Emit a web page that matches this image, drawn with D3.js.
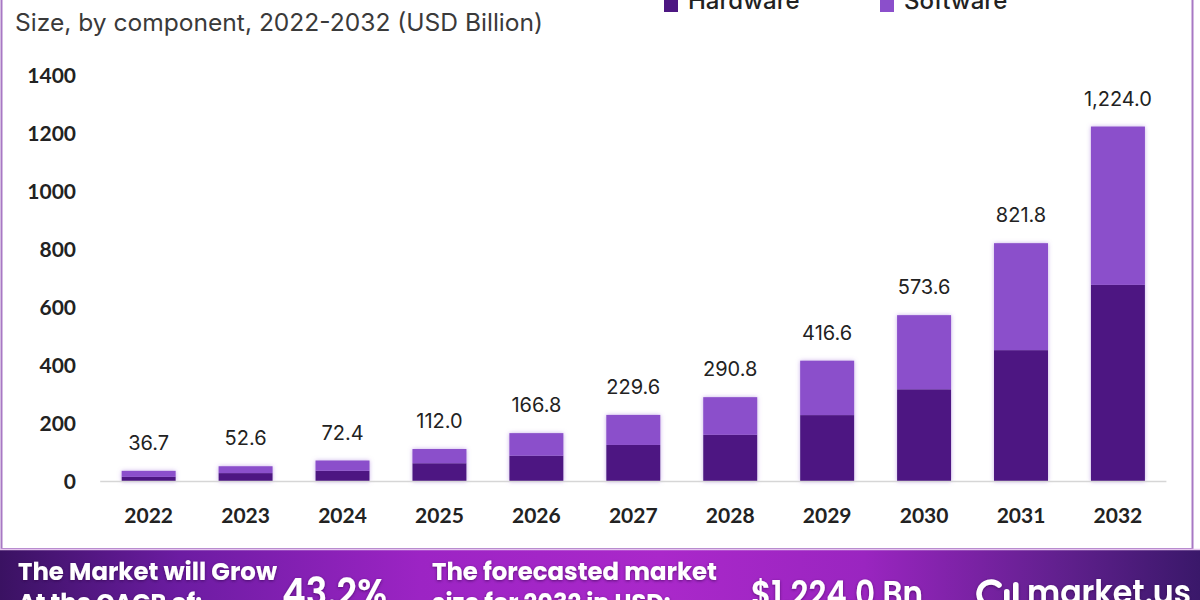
<!DOCTYPE html>
<html><head><meta charset="utf-8">
<script src="https://cdn.jsdelivr.net/npm/d3@7/dist/d3.min.js"></script>
<style>
html,body{margin:0;padding:0;background:#fff;}
svg{display:block;}
</style></head>
<body>
<svg id="c" width="1200" height="600"></svg>
<script>
const years = ["2022","2023","2024","2025","2026","2027","2028","2029","2030","2031","2032"];
const hardware = [16, 29, 37, 63, 89, 126, 161, 229, 318, 453, 678];
const software = [20.7, 23.6, 35.4, 49.0, 77.8, 103.6, 129.8, 187.6, 255.6, 368.8, 546.0];
const totals = [36.7, 52.6, 72.4, 112.0, 166.8, 229.6, 290.8, 416.6, 573.6, 821.8, 1224.0];
const yTicks = [0, 200, 400, 600, 800, 1000, 1200, 1400];
const seriesNames = ["Hardware", "Software"];
const colors = ["#4d1782", "#8b4fcb"];
const subtitle = "Size, by component, 2022-2032 (USD Billion)";
const cagr = "43.2%";
const forecast = "$1,224.0 Bn";

const svg = d3.select("#c");
const defs = svg.append("defs");

const g = defs.append("linearGradient").attr("id","bg").attr("x1","0").attr("x2","1").attr("y1","0").attr("y2","0");
[["0%","#3a1262"],["15%","#6c1ca2"],["35%","#9c24c4"],["55%","#aa28ca"],["72%","#9a25c0"],["88%","#62208f"],["100%","#3a186a"]]
  .forEach(([o,c])=>g.append("stop").attr("offset",o).attr("stop-color",c));

const f = defs.append("filter").attr("id","glow").attr("x","-20%").attr("y","-20%").attr("width","140%").attr("height","140%");
f.append("feDropShadow").attr("dx",0).attr("dy",0).attr("stdDeviation",2).attr("flood-color","#9a6ad6").attr("flood-opacity",0.55);

const ts = defs.append("filter").attr("id","tshadow").attr("x","-10%").attr("y","-30%").attr("width","120%").attr("height","160%");
ts.append("feDropShadow").attr("dx",0).attr("dy",1).attr("stdDeviation",1.5).attr("flood-color","#2a0040").attr("flood-opacity",0.6);

// card border
svg.append("rect").attr("x",1.5).attr("y",-10).attr("width",1191).attr("height",559)
  .attr("fill","#fff").attr("stroke","#a878c4").attr("stroke-width",2);

// scales
const x = d3.scaleBand().domain(years).range([100.2, 1166.4]).paddingInner(0.443).paddingOuter(0.2215);
const y = d3.scaleLinear().domain([0, 1400]).range([481.5, 75.5]);

// subtitle
svg.append("text").attr("x",15).attr("y",31).text(subtitle)
  .attr("font-family","Inter, 'Noto Sans', sans-serif").attr("font-size",24).attr("fill","#3a3a3a")
  .attr("textLength",528).attr("lengthAdjust","spacingAndGlyphs");

// legend (cut off at top, as in reference)
const legX = [664, 880];
seriesNames.forEach((n,i)=>{
  svg.append("rect").attr("x",legX[i]).attr("y",-3).attr("width",14).attr("height",15).attr("fill",colors[i]);
  svg.append("text").attr("x",legX[i]+24).attr("y",9).text(n)
    .attr("font-family","Inter, sans-serif").attr("font-weight",500).attr("font-size",24).attr("fill","#222");
});

// y axis (labels only)
const yAxis = d3.axisLeft(y).tickValues(yTicks).tickSize(0).tickPadding(0).tickFormat(d3.format("d"));
const ya = svg.append("g").attr("transform","translate(76,0)").call(yAxis);
ya.select(".domain").remove();
ya.selectAll("text").attr("font-family","Lato, sans-serif").attr("font-weight",700).attr("font-size",21).attr("fill","#222").attr("dy","0.35em");

// stacked bars
const stackData = years.map((yr,i)=>({year:yr, Hardware:hardware[i], Software:software[i]}));
const stack = d3.stack().keys(seriesNames)(stackData);
const bars = svg.append("g").attr("filter","url(#glow)");
stack.forEach((layer,li)=>{
  bars.selectAll(null).data(layer).enter().append("rect")
    .attr("x",d=>x(d.data.year)).attr("width",x.bandwidth())
    .attr("y",d=>y(d[1])).attr("height",d=>y(d[0])-y(d[1]))
    .attr("fill",colors[li]);
});

// baseline axis
const xAxis = d3.axisBottom(x).tickSize(0).tickPadding(0);
const xa = svg.append("g").attr("transform",`translate(0,${y(0)})`).call(xAxis);
xa.select(".domain").attr("stroke","#d6d6d6").attr("stroke-width",1.5).attr("d",`M${x.range()[0]},0H${x.range()[1]}`);
xa.selectAll("text").attr("font-family","Lato, sans-serif").attr("font-weight",700).attr("font-size",21).attr("fill","#222")
  .attr("dy",0).attr("y",41);

// value labels
svg.append("g").selectAll("text").data(years).enter().append("text")
  .attr("x",d=>x(d)+x.bandwidth()/2).attr("y",(d,i)=>y(totals[i])-21)
  .attr("text-anchor","middle").text((d,i)=>d3.format(",.1f")(totals[i]))
  .attr("font-family","Inter, sans-serif").attr("font-size",20).attr("fill","#222");

// banner
svg.append("rect").attr("x",0).attr("y",550).attr("width",1200).attr("height",50).attr("fill","url(#bg)");
svg.append("line").attr("x1",0).attr("x2",1200).attr("y1",549.5).attr("y2",549.5).attr("stroke","#e6c6ee").attr("stroke-width",1.5);

const bt = svg.append("g").attr("fill","#fff").attr("font-family","Poppins, 'Open Sans', sans-serif").attr("font-weight",700).attr("filter","url(#tshadow)");
bt.append("text").attr("x",18).attr("y",580).attr("font-size",24).text("The Market will Grow").attr("textLength",259).attr("lengthAdjust","spacingAndGlyphs");
bt.append("text").attr("x",18).attr("y",611).attr("font-size",24).text("At the CAGR of:");
bt.append("text").attr("x",282).attr("y",606).attr("font-size",38).attr("font-weight",600).text(cagr).attr("textLength",105).attr("lengthAdjust","spacingAndGlyphs");
bt.append("text").attr("x",432).attr("y",580).attr("font-size",24).text("The forecasted market").attr("textLength",285).attr("lengthAdjust","spacingAndGlyphs");
bt.append("text").attr("x",432).attr("y",611).attr("font-size",24).text("size for 2032 in USD:");
bt.append("text").attr("x",751).attr("y",606).attr("font-size",36).attr("font-weight",600).text(forecast).attr("textLength",172).attr("lengthAdjust","spacingAndGlyphs");

// logo
const logo = svg.append("g").attr("fill","#fff").attr("filter","url(#tshadow)");
logo.append("path").attr("d","M992,606 A12,12 0 1 1 999,585").attr("fill","none").attr("stroke","#fff").attr("stroke-width",5.5).attr("stroke-linecap","round");
logo.append("rect").attr("x",1004).attr("y",589).attr("width",5.5).attr("height",18).attr("rx",2.75);
logo.append("rect").attr("x",1013).attr("y",582).attr("width",5.5).attr("height",25).attr("rx",2.75);
logo.append("text").attr("x",1027).attr("y",604).attr("font-family","Poppins, 'Open Sans', sans-serif").attr("font-weight",600).attr("font-size",34).text("market.us")
  .attr("textLength",164).attr("lengthAdjust","spacingAndGlyphs");
</script>
</body></html>
